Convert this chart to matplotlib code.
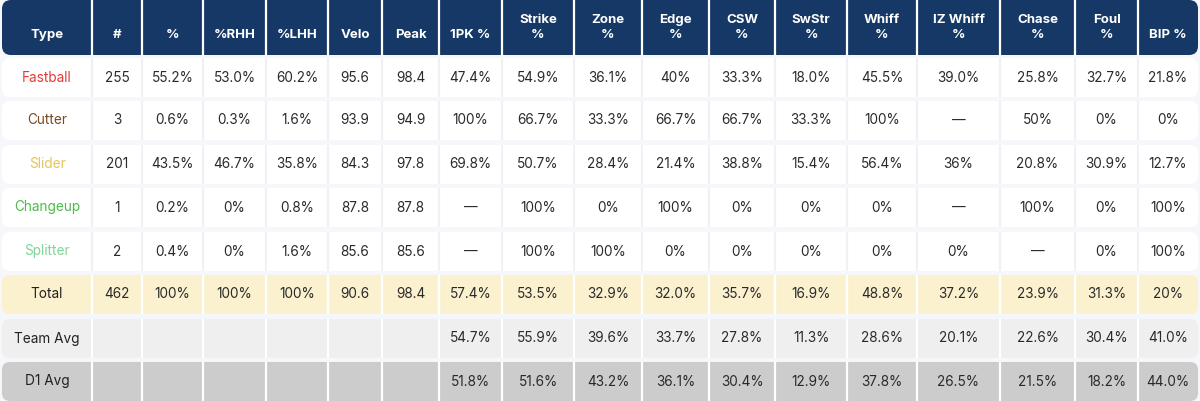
import matplotlib
matplotlib.use("Agg")
import matplotlib.pyplot as plt
from matplotlib.patches import FancyBboxPatch

plt.rcParams['font.family'] = ['Inter', 'DejaVu Sans']

# column headers and row data
headers = ["Type", "#", "%", "%RHH", "%LHH", "Velo", "Peak", "1PK %", "Strike\n%", "Zone\n%",
           "Edge\n%", "CSW\n%", "SwStr\n%", "Whiff\n%", "IZ Whiff\n%", "Chase\n%", "Foul\n%", "BIP %"]

row_names = ["Fastball", "Cutter", "Slider", "Changeup", "Splitter", "Total", "Team Avg", "D1 Avg"]

fastball = ["255", "55.2%", "53.0%", "60.2%", "95.6", "98.4", "47.4%", "54.9%", "36.1%", "40%",
            "33.3%", "18.0%", "45.5%", "39.0%", "25.8%", "32.7%", "21.8%"]
cutter = ["3", "0.6%", "0.3%", "1.6%", "93.9", "94.9", "100%", "66.7%", "33.3%", "66.7%",
          "66.7%", "33.3%", "100%", "—", "50%", "0%", "0%"]
slider = ["201", "43.5%", "46.7%", "35.8%", "84.3", "97.8", "69.8%", "50.7%", "28.4%", "21.4%",
          "38.8%", "15.4%", "56.4%", "36%", "20.8%", "30.9%", "12.7%"]
changeup = ["1", "0.2%", "0%", "0.8%", "87.8", "87.8", "—", "100%", "0%", "100%",
            "0%", "0%", "0%", "—", "100%", "0%", "100%"]
splitter = ["2", "0.4%", "0%", "1.6%", "85.6", "85.6", "—", "100%", "100%", "0%",
            "0%", "0%", "0%", "0%", "—", "0%", "100%"]
total = ["462", "100%", "100%", "100%", "90.6", "98.4", "57.4%", "53.5%", "32.9%", "32.0%",
         "35.7%", "16.9%", "48.8%", "37.2%", "23.9%", "31.3%", "20%"]
team_avg = ["", "", "", "", "", "", "54.7%", "55.9%", "39.6%", "33.7%",
            "27.8%", "11.3%", "28.6%", "20.1%", "22.6%", "30.4%", "41.0%"]
d1_avg = ["", "", "", "", "", "", "51.8%", "51.6%", "43.2%", "36.1%",
          "30.4%", "12.9%", "37.8%", "26.5%", "21.5%", "18.2%", "44.0%"]

rows = [fastball, cutter, slider, changeup, splitter, total, team_avg, d1_avg]

name_colors = ["#e33b36", "#7a4a22", "#e8c35c", "#4dbb4a", "#7fd49a", "#222222", "#222222", "#222222"]
row_bg = ["white"] * 5 + ["#fcf1cf", "#efefef", "#cccccc"]
sep_colors = ["#eef1f6"] * 5 + ["white", "white", "white"]

# layout (pixels)
col_edges = [2, 92, 142, 203, 266, 328, 382, 439, 502, 574, 642, 709, 775, 847, 917, 1000, 1075, 1138, 1198]
row_tops = [58, 101, 145, 188, 232, 275, 319, 362]
row_h = 39
header_h = 55
navy = "#163866"

fig = plt.figure(figsize=(12, 4.01), dpi=100)
fig.patch.set_facecolor("#f5f7fb")
ax = fig.add_axes([0, 0, 1, 1])
ax.set_xlim(0, 1200)
ax.set_ylim(401, 0)
ax.axis("off")

x0, x1 = col_edges[0], col_edges[-1]

# header
ax.add_patch(FancyBboxPatch((x0, 0), x1 - x0, header_h, boxstyle="round,pad=0,rounding_size=9",
                            fc=navy, ec="none"))
for xe in col_edges[1:-1]:
    ax.plot([xe, xe], [0, header_h], color="white", lw=1.6, solid_capstyle="butt")
for i, h in enumerate(headers):
    xc = (col_edges[i] + col_edges[i + 1]) / 2
    if "\n" in h:
        top, bot = h.split("\n")
        ax.text(xc, 20, top, ha="center", va="center", color="white", fontsize=9.5, fontweight="bold")
        ax.text(xc, 35, bot, ha="center", va="center", color="white", fontsize=9.5, fontweight="bold")
    else:
        ax.text(xc, 35, h, ha="center", va="center", color="white", fontsize=9.5, fontweight="bold")

# body rows
for r, (name, vals) in enumerate(zip(row_names, rows)):
    yt = row_tops[r]
    ax.add_patch(FancyBboxPatch((x0, yt), x1 - x0, row_h, boxstyle="round,pad=0,rounding_size=8",
                                fc=row_bg[r], ec="none"))
    for xe in col_edges[1:-1]:
        ax.plot([xe, xe], [yt, yt + row_h], color=sep_colors[r], lw=1.6, solid_capstyle="butt")
    yc = yt + row_h / 2
    ax.text((col_edges[0] + col_edges[1]) / 2, yc, name, ha="center", va="center",
            color=name_colors[r], fontsize=9.8)
    for c, v in enumerate(vals):
        xc = (col_edges[c + 1] + col_edges[c + 2]) / 2
        ax.text(xc, yc, v, ha="center", va="center", color="#2a2a2a", fontsize=9.8)

fig.savefig("out.png", dpi=100, facecolor=fig.get_facecolor())
